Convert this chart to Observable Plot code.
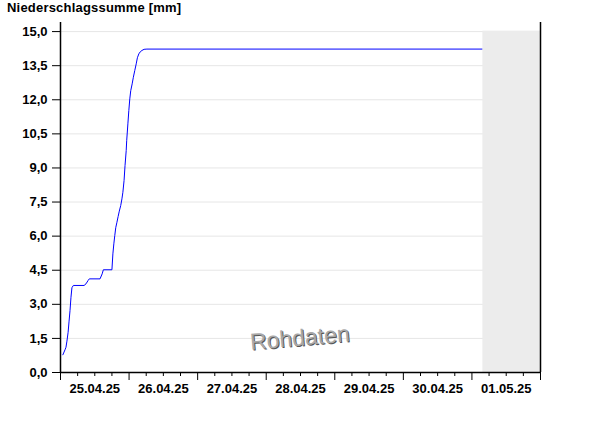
<!DOCTYPE html>
<html><head><meta charset="utf-8">
<script src="https://cdn.jsdelivr.net/npm/d3@7"></script>
<script src="https://cdn.jsdelivr.net/npm/@observablehq/plot@0.6"></script>
<style>
body{margin:0;background:#fff;}
#title{height:20px;line-height:19px;padding-left:7px;font:bold 13px "Liberation Sans",Arial,sans-serif;letter-spacing:0.2px;color:#000;}
</style></head><body>
<div id="title">Niederschlagssumme [mm]</div>
<div id="chart"></div>
<script>
const times = [
  "2025-04-25T00:50Z","2025-04-25T01:35Z","2025-04-25T01:55Z","2025-04-25T02:15Z","2025-04-25T02:40Z",
  "2025-04-25T03:00Z","2025-04-25T03:20Z","2025-04-25T03:40Z","2025-04-25T04:00Z","2025-04-25T04:30Z",
  "2025-04-25T08:15Z","2025-04-25T08:55Z","2025-04-25T09:40Z","2025-04-25T10:05Z","2025-04-25T13:50Z",
  "2025-04-25T14:35Z","2025-04-25T15:00Z","2025-04-25T18:00Z","2025-04-25T18:20Z","2025-04-25T18:40Z",
  "2025-04-25T19:00Z","2025-04-25T19:20Z","2025-04-25T19:45Z","2025-04-25T20:10Z","2025-04-25T20:35Z",
  "2025-04-25T21:05Z","2025-04-25T21:30Z","2025-04-25T21:50Z","2025-04-25T22:15Z","2025-04-25T22:35Z",
  "2025-04-25T23:00Z","2025-04-25T23:10Z","2025-04-25T23:35Z","2025-04-25T23:55Z","2025-04-26T00:15Z",
  "2025-04-26T00:35Z","2025-04-26T01:05Z","2025-04-26T01:30Z","2025-04-26T02:00Z","2025-04-26T02:30Z",
  "2025-04-26T02:55Z","2025-04-26T03:25Z","2025-04-26T03:55Z","2025-04-26T04:30Z","2025-04-26T05:15Z",
  "2025-04-26T06:15Z","2025-05-01T03:30Z"
];
const values = [
  0.78,1.0,1.11,1.38,1.77,
  2.26,2.73,3.31,3.73,3.83,
  3.83,3.9,4.05,4.12,4.12,
  4.34,4.52,4.52,5.22,5.66,
  6.03,6.37,6.61,6.86,7.1,
  7.35,7.64,7.93,8.45,9.1,
  9.77,10.2,10.94,11.53,12.04,
  12.4,12.7,12.99,13.29,13.58,
  13.85,14.02,14.11,14.17,14.22,
  14.23,14.23
];
const yTicks = [0,1.5,3,4.5,6,7.5,9,10.5,12,13.5,15];
const dayLabels = ["2025-04-25","2025-04-26","2025-04-27","2025-04-28","2025-04-29","2025-04-30","2025-05-01"];
const xStart = "2025-04-25T00:00Z";
const xEnd = "2025-05-02T00:00Z";
const noDataStart = "2025-05-01T03:50Z";
const yMax = 15.4;
const watermark = "Rohdaten";

const data = times.map((t, i) => ({t: new Date(t), v: values[i]}));
const start = new Date(xStart), end = new Date(xEnd);
const majorTicks = d3.utcDay.range(start, d3.utcDay.offset(end, 1));
const minorTicks = d3.utcHour.every(6).range(start, d3.utcHour.offset(end, 1)).filter(d => d.getUTCHours() !== 0);
const labelTicks = dayLabels.map(d => d3.utcHour.offset(new Date(d + "T00:00Z"), 12));
const fmtDate = d3.utcFormat("%d.%m.%y");
const fmtY = d => d.toFixed(1).replace(".", ",");
const noLabel = () => "";

const chart = Plot.plot({
  width: 600,
  height: 406,
  marginTop: 2,
  marginBottom: 54,
  marginLeft: 60,
  marginRight: 60,
  style: {background: "#fff", fontFamily: "'Liberation Sans', Arial, sans-serif", fontSize: "13px", overflow: "visible"},
  x: {type: "utc", domain: [start, end], axis: null},
  y: {domain: [0, yMax], axis: null},
  marks: [
    Plot.ruleY(yTicks.filter(d => d > 0), {stroke: "#e6e6e6", strokeWidth: 1}),
    Plot.rect([{x1: new Date(noDataStart), x2: end, y1: 0, y2: 15.02}], {x1: "x1", x2: "x2", y1: "y1", y2: "y2", fill: "#ececec"}),
    Plot.text([watermark], {frameAnchor: "bottom", text: d => d, dy: -26, dx: 1, rotate: -5, fontSize: 23, fill: "#555", letterSpacing: 0.8}),
    Plot.text([watermark], {frameAnchor: "bottom", text: d => d, dy: -27, rotate: -5, fontSize: 23, fill: "#a8a8a8", letterSpacing: 0.8}),
    Plot.line(data, {x: "t", y: "v", stroke: "#0000ff", strokeWidth: 1}),
    Plot.ruleX([start, end], {y1: 0, y2: yMax, stroke: "#000", strokeWidth: 1.5}),
    Plot.ruleY([0], {stroke: "#000", strokeWidth: 1.5}),
    Plot.axisY(yTicks, {tickSize: 8, tickPadding: 5, tickFormat: fmtY, fontWeight: "bold", fontSize: 13, letterSpacing: 0.5, label: null, stroke: "#000", fill: "#000"}),
    Plot.axisX(majorTicks, {tickSize: 8, tickFormat: noLabel, label: null, stroke: "#000"}),
    Plot.axisX(minorTicks, {tickSize: 4, tickFormat: noLabel, label: null, stroke: "#000"}),
    Plot.axisX(labelTicks, {tickSize: 0, tickPadding: 11, tickFormat: fmtDate, label: null, fontWeight: "bold", fontSize: 13, letterSpacing: 0.5, fill: "#000"})
  ]
});
document.getElementById("chart").appendChild(chart);
</script>
</body></html>
